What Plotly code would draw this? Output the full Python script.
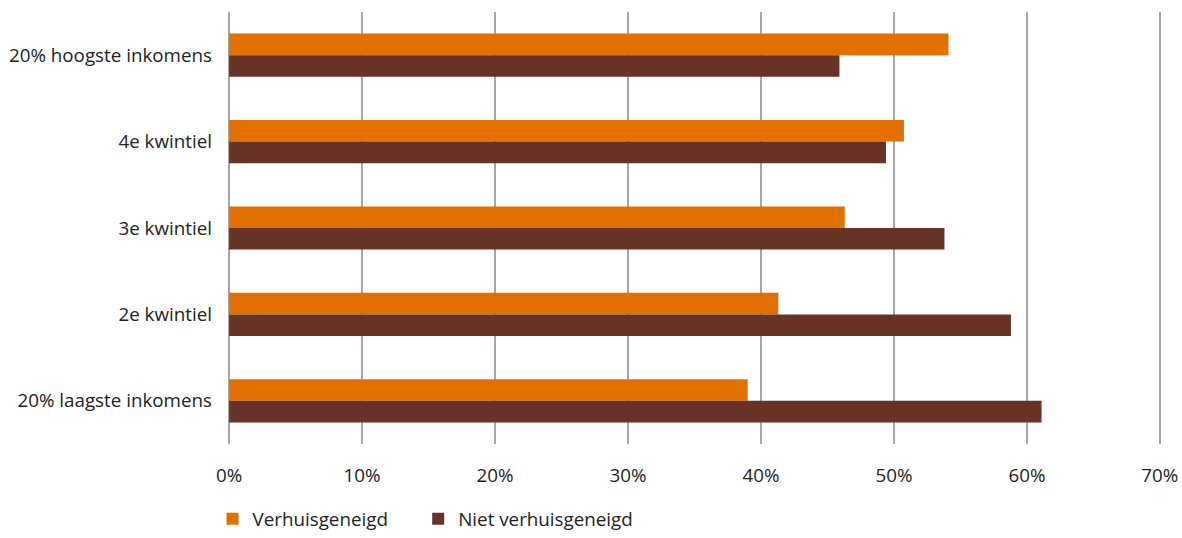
import plotly.graph_objects as go

categories = ["20% hoogste inkomens", "4e kwintiel", "3e kwintiel", "2e kwintiel", "20% laagste inkomens"]
verhuisgeneigd = [54.1, 50.75, 46.3, 41.3, 39.0]
niet_verhuisgeneigd = [45.9, 49.4, 53.8, 58.8, 61.1]
series_names = ["Verhuisgeneigd", "Niet verhuisgeneigd"]
x_ticks = [0, 10, 20, 30, 40, 50, 60, 70]
x_tick_labels = [f"{v}%" for v in x_ticks]

ORANGE = "#E17000"
BROWN = "#673327"
FONT = "Open Sans"
FS = 18.8
TXT = "#222222"

fig = go.Figure()
fig.add_trace(go.Bar(y=categories, x=verhuisgeneigd, orientation="h", name=series_names[0],
                     marker=dict(color=ORANGE, line=dict(width=0)), legend="legend"))
fig.add_trace(go.Bar(y=categories, x=niet_verhuisgeneigd, orientation="h", name=series_names[1],
                     marker=dict(color=BROWN, line=dict(width=0)), legend="legend2"))

leg_common = dict(orientation="h", xanchor="left", y=-0.2176, yanchor="bottom",
                  font=dict(family=FONT, size=FS, color=TXT), itemwidth=30,
                  bgcolor="rgba(0,0,0,0)")

fig.update_layout(
    width=1182, height=538,
    margin=dict(l=226.8, r=19.8, t=12, b=94, autoexpand=False),
    barmode="group", bargap=0.5, bargroupgap=0,
    plot_bgcolor="white", paper_bgcolor="white",
    font=dict(family=FONT, size=FS, color=TXT),
    legend=dict(x=-0.0155, **leg_common),
    legend2=dict(x=0.2045, **leg_common),
    showlegend=True,
)
fig.update_xaxes(range=[-0.16, 70.16], tickvals=x_ticks, ticktext=x_tick_labels,
                 showgrid=True, gridcolor="#A6A6A6", gridwidth=1.5,
                 zeroline=False, showline=False, ticks="", ticklabelstandoff=18,
                 ticklabeloverflow="allow",
                 tickfont=dict(family=FONT, size=FS, color=TXT), fixedrange=True)
fig.update_yaxes(autorange="reversed", showgrid=False, zeroline=False, showline=False,
                 ticks="", ticklabelstandoff=14,
                 tickfont=dict(family=FONT, size=FS, color=TXT), fixedrange=True)

fig.write_html("out.html", config={"displayModeBar": False, "staticPlot": True},
               post_script="document.body.style.margin='0';document.body.style.overflow='hidden';")
